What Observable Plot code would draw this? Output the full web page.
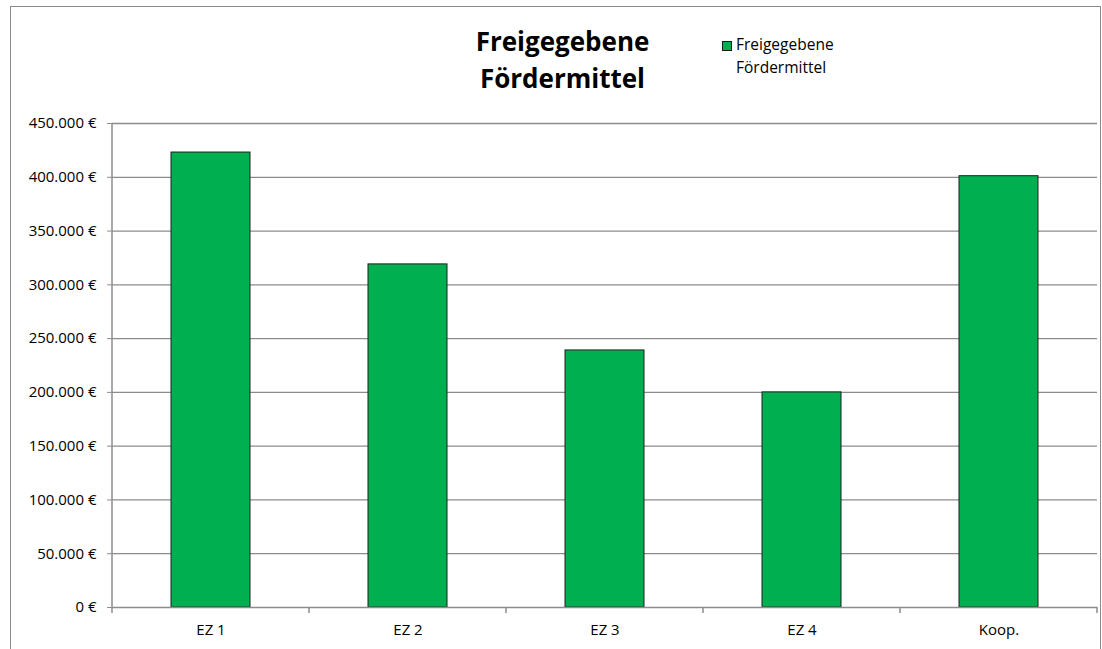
<!DOCTYPE html>
<html>
<head>
<meta charset="utf-8">
<script src="https://cdn.jsdelivr.net/npm/d3@7"></script>
<script src="https://cdn.jsdelivr.net/npm/@observablehq/plot@0.6"></script>
<style>
  html, body { margin: 0; padding: 0; background: #fff; overflow: hidden; }
  #wrap { position: relative; width: 1102px; height: 649px; font-family: "Open Sans", sans-serif; color: #000; overflow: hidden; }
  #frame { position: absolute; left: 10px; top: 6px; width: 1091px; height: 700px; border: 1.5px solid #8a8a8a; box-sizing: border-box; pointer-events: none; }
  #header { position: relative; height: 110px; }
  #title { position: absolute; left: 400px; width: 325px; top: 23px; text-align: center; font-weight: 700; font-size: 26px; line-height: 37px; }
  #legend { position: absolute; left: 736px; top: 33px; font-size: 15.5px; line-height: 22.6px; }
  #swatch { position: absolute; left: 722px; top: 41px; width: 8px; height: 8px; background: #00B050; border: 1px solid #1a1a1a; }
  #chart svg { display: block; }
</style>
</head>
<body>
<div id="wrap">
  <div id="frame"></div>
  <div id="header">
    <div id="title"></div>
    <div id="swatch"></div>
    <div id="legend"></div>
  </div>
  <div id="chart"></div>
</div>
<script>
// ---- data ----
const titleLines = ["Freigegebene", "Fördermittel"];
const legendLines = ["Freigegebene", "Fördermittel"];
const categories = ["EZ 1", "EZ 2", "EZ 3", "EZ 4", "Koop."];
const values = [423000, 319000, 239000, 200000, 401000];
const yTicks = [0, 50000, 100000, 150000, 200000, 250000, 300000, 350000, 400000, 450000];

const data = categories.map((c, i) => ({category: c, value: values[i]}));

document.getElementById("title").innerHTML = titleLines.join("<br>");
document.getElementById("legend").innerHTML = legendLines.join("<br>");

const gray = "#8c8c8c";
const fmt = d => d3.format(",")(d).replace(/,/g, ".") + " €";

const chart = Plot.plot({
  width: 1102,
  height: 539,
  marginTop: 13,
  marginBottom: 42,
  marginLeft: 112,
  marginRight: 5,
  style: { fontFamily: "'Open Sans', sans-serif", fontSize: "15px", color: "#000", background: "transparent" },
  x: { domain: categories, paddingInner: 0.6, paddingOuter: 0.3, axis: null },
  y: { domain: [0, 450000], axis: null },
  marks: [
    Plot.ruleY(yTicks.filter(d => d > 0), { stroke: gray, strokeWidth: 1.3 }),
    Plot.barY(data, { x: "category", y: "value", fill: "#00B050", stroke: "#1f1f1f", strokeWidth: 1 }),
    Plot.ruleY([0], { stroke: gray, strokeWidth: 1.5 }),
    Plot.axisY(yTicks, { tickSize: 5, tickPadding: 11, tickFormat: fmt, stroke: gray, fill: "#000", fontSize: 15, label: null }),
    Plot.axisX({ tickSize: 0, tickPadding: 17, fill: "#000", fontSize: 15, label: null }),
    (index, scales, values, dims) => {
      const y = scales.y;
      const left = dims.marginLeft;
      const right = dims.width - dims.marginRight;
      const n = categories.length;
      const g = d3.create("svg:g").attr("stroke", gray).attr("stroke-width", 1.5).attr("fill", "none");
      g.append("line").attr("x1", left).attr("x2", left).attr("y1", y(0)).attr("y2", y(yTicks[yTicks.length - 1]));
      for (let i = 0; i <= n; i++) {
        const xx = left + i * (right - left) / n;
        g.append("line").attr("x1", xx).attr("x2", xx).attr("y1", y(0)).attr("y2", y(0) + 6);
      }
      return g.node();
    }
  ]
});
document.getElementById("chart").appendChild(chart);
</script>
</body>
</html>
